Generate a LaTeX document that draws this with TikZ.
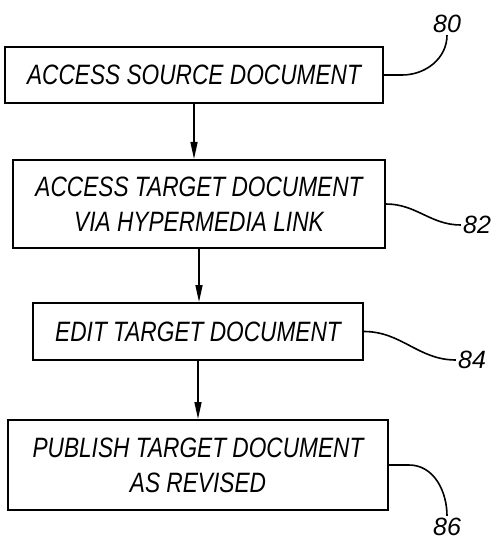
\documentclass[tikz,border=0pt]{standalone}
\usepackage{fontspec}
\newfontfamily\patfont[FakeStretch=0.81]{Liberation Sans}
\newfontfamily\numfont{Liberation Sans}
\usetikzlibrary{arrows.meta}
\tikzset{
  stepbox/.style={draw, line width=2pt, align=center, inner sep=0pt, font=\patfont\itshape\fontsize{28}{35}\selectfont},
  flow/.style={line width=1.5pt, -{Triangle[length=17pt,width=7pt]}},
  leader/.style={line width=1.6pt},
  refnum/.style={inner sep=2pt, font=\numfont\itshape\fontsize{25}{25}\selectfont}
}

\begin{document}
\begin{tikzpicture}[x=1pt,y=-1pt]
\useasboundingbox (0,0) rectangle (498,540);
% boxes
\node[stepbox, minimum width=378pt, minimum height=56pt] (source) at (194,75) {ACCESS SOURCE DOCUMENT};
\node[stepbox, minimum width=372pt, minimum height=88pt] (target) at (199,204) {ACCESS TARGET DOCUMENT\\VIA HYPERMEDIA LINK};
\node[stepbox, minimum width=330pt, minimum height=57pt] (edit) at (198,331.5) {EDIT TARGET DOCUMENT};
\node[stepbox, minimum width=380pt, minimum height=90pt] (publish) at (198,465) {PUBLISH TARGET DOCUMENT\\AS REVISED};
% reference numerals
\node[refnum] (n80) at (447,24) {80};
\node[refnum] (n82) at (477,225) {82};
\node[refnum] (n84) at (472,360) {84};
\node[refnum] (n86) at (447,527) {86};
% flow
\draw[flow] (source.south) -- (source.south |- target.north);
\draw[flow] (target.south) -- (target.south |- edit.north);
\draw[flow] (edit.south) -- (edit.south |- publish.north);
% leaders
\draw[leader] (source.east) -- ++(18,0) to[out=0, in=-90] (n80.south);
\draw[leader] (target.east) to[out=0, in=180] (n82.west);
\draw[leader] (edit.east) to[out=0, in=180] (n84.west);
\draw[leader] (publish.east) -- ++(20,0) to[out=0, in=90] (n86.north);
\end{tikzpicture}
\end{document}
